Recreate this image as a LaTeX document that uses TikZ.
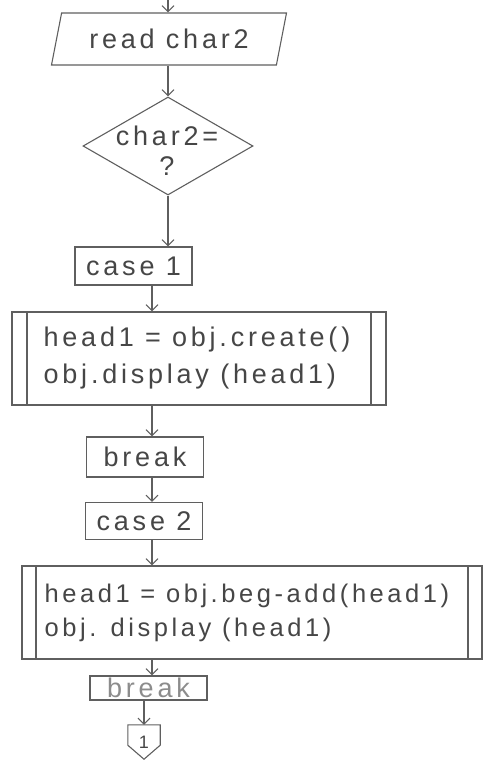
\documentclass[tikz,border=0pt]{standalone}
\usepackage{fontspec}
\setmainfont{Liberation Sans}[LetterSpace=14]
\usetikzlibrary{arrows.meta,shapes.geometric}
\definecolor{ink}{RGB}{70,70,70}
\definecolor{pencil}{RGB}{95,95,95}
\definecolor{faint}{RGB}{140,140,140}
\begin{document}
\begin{tikzpicture}[x=1pt,y=-1pt,
  every node/.style={font=\fontsize{27}{32}\selectfont, text=ink},
  line/.style={draw=pencil, line width=1.1pt},
  arr/.style={line, -{Straight Barb[length=6pt,width=12pt]}},
  io/.style={line, trapezium, trapezium left angle=63, trapezium right angle=117,
    trapezium stretches body, minimum width=235pt, minimum height=52pt, inner sep=0pt},
  decision/.style={line, diamond, minimum width=170pt, minimum height=98pt, inner sep=0pt},
  stepbox/.style={line, rectangle, inner sep=0pt, minimum width=117pt, minimum height=38pt},
  proc/.style={line, rectangle,
    path picture={\draw[pencil, line width=1.1pt]
      ([xshift=#1]path picture bounding box.north west) -- ([xshift=#1]path picture bounding box.south west)
      ([xshift=-#1]path picture bounding box.north east) -- ([xshift=-#1]path picture bounding box.south east);}},
  label/.style={inner sep=0pt, align=center},
  code/.style={inner sep=0pt, align=left, anchor=west},
]
\useasboundingbox (0,0) rectangle (488,761);

% input step
\coordinate (in) at (168,0);
\node[io] (read) at (169,39) {read char2};

% decision on char2
\node[decision] (dec) at (168,146) {};
\node[label] (dectext) at (167,151) {char2=\\[-2pt]?};

% case 1
\node[stepbox] (c1) at (133.5,266) {case 1};
\node[proc=15pt, minimum width=374pt, minimum height=93pt] (p1) at (199,358.5) {};
\node[code] (p1text) at ([xshift=32pt]p1.west)
  {head1 = obj.create()\\[5pt]obj.display (head1)};
\node[stepbox, minimum height=40pt] (b1) at (145,457) {break};

% case 2
\node[stepbox, minimum height=37pt] (c2) at (144,521) {case 2};
\node[proc=14pt, minimum width=460pt, minimum height=93pt] (p2) at (252,612.5) {};
\node[code, font=\fontsize{25.5}{31}\selectfont] (p2text) at ([xshift=23pt]p2.west)
  {head1 = obj.beg-add(head1)\\[3pt]obj. display (head1)};
\node[stepbox, minimum height=24pt, text=faint] (b2) at (148.5,688) {break};

% off-page connector
\node[label, minimum width=32pt, minimum height=34pt, font=\fontsize{18}{20}\selectfont] (conn) at (144,742) {1};
\draw[line] (conn.north west) -- (conn.north east) -- ([yshift=14pt]conn.south east)
  -- (conn.south) -- ([yshift=14pt]conn.south west) -- cycle;

% flow
\coordinate (sp) at (152,0);
\draw[arr] (in) -- (in |- read.north);
\draw[arr] (dec.north |- read.south) -- (dec.north);
\draw[arr] (dec.south) -- (dec.south |- c1.north);
\draw[arr] (c1.south -| sp) -- (p1.north -| sp);
\draw[arr] (p1.south -| sp) -- (b1.north -| sp);
\draw[arr] (b1.south -| sp) -- (c2.north -| sp);
\draw[arr] (c2.south -| sp) -- (p2.north -| sp);
\draw[arr] (p2.south -| sp) -- (b2.north -| sp);
\draw[arr] (b2.south -| conn.north) -- (conn.north);
\end{tikzpicture}
\end{document}
